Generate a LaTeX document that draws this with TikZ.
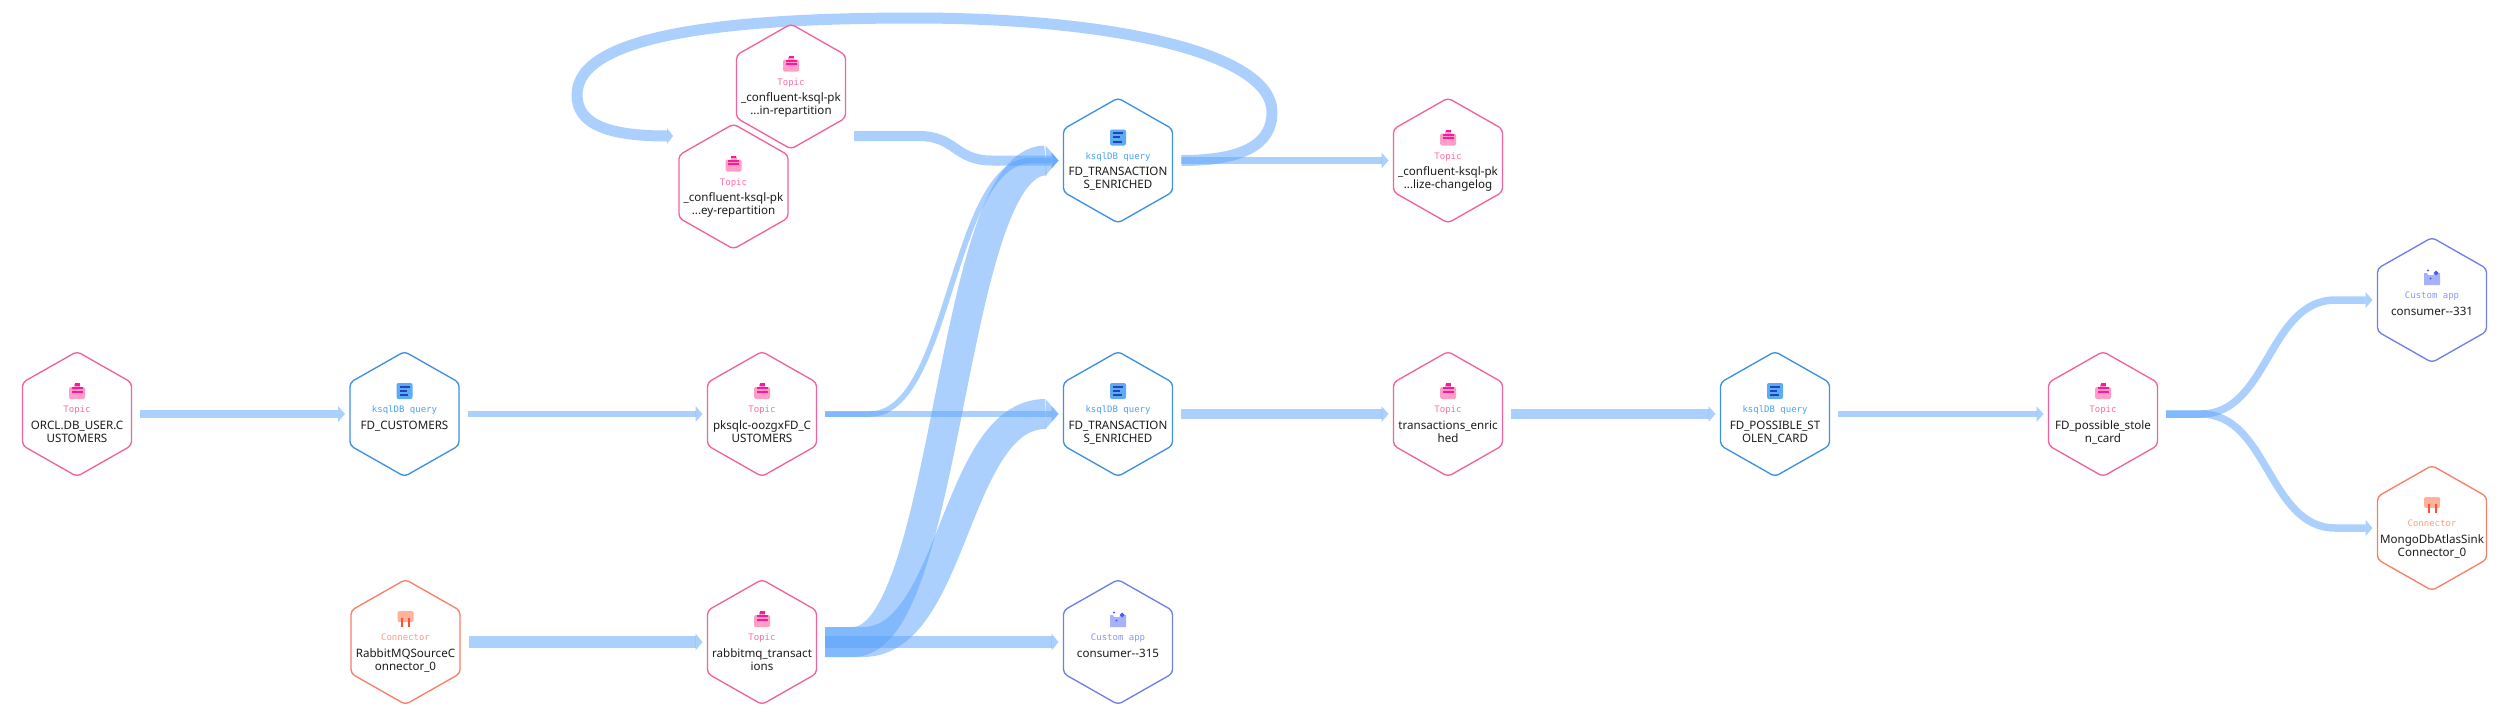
\documentclass[tikz,border=0pt]{standalone}
\usepackage{fontspec}
\setmainfont[Ligatures=NoCommon]{Noto Sans}
\newfontfamily\monof{DejaVu Sans Mono}
\usetikzlibrary{calc,backgrounds}
\definecolor{topicL}{HTML}{F2639E}\definecolor{topicT}{HTML}{FF6BA8}
\definecolor{queryL}{HTML}{3F90E2}\definecolor{queryT}{HTML}{4BA3F2}
\definecolor{appL}{HTML}{6F80E6}\definecolor{appT}{HTML}{8A98F8}
\definecolor{connL}{HTML}{F6806A}\definecolor{connT}{HTML}{FF9E80}
\definecolor{flow}{HTML}{59A1FB}
\definecolor{nametext}{HTML}{1C1C1C}
\tikzset{
  hexbox/.style={minimum width=109pt,minimum height=125pt,inner sep=0pt,outer sep=0pt,shape=rectangle},
  hexline/.style={line width=1.35pt,rounded corners=4pt,fill=white},
  typelabel/.style={anchor=base,inner sep=0pt,font=\monof\fontsize{9}{9}\selectfont},
  namelabel/.style={anchor=base,inner sep=0pt,text=nametext,font=\fontsize{11.6}{13}\selectfont},
  flowline/.style={draw=flow,draw opacity=.5,line cap=butt},
  flowhead/.style={fill=flow,fill opacity=.5,draw=none}
}
% icons, drawn relative to the node centre
\newcommand{\icontopic}{%
  \fill[topicT!65!white,rounded corners=1.5pt] (-8,-27) rectangle (8,-15);
  \fill[topicT!65!white] (-3,-30) rectangle (3,-27);
  \fill[topicT!30!magenta!70!red] (-2.5,-31) rectangle (2.5,-28.5);
  \fill[topicT!30!magenta!70!red] (-5.5,-27) rectangle (5.5,-25);
  \fill[topicT!30!magenta!70!red] (-5.5,-23.5) rectangle (5.5,-21.5);
}
\newcommand{\iconquery}{%
  \fill[queryT!90!white,rounded corners=2pt] (-8,-31) rectangle (8,-15);
  \fill[blue!40!queryL!80!black] (-5,-28.5) rectangle (5,-26.5);
  \fill[blue!40!queryL!80!black] (-5,-24.2) rectangle (2,-22.2);
  \fill[blue!40!queryL!80!black] (-5,-20) rectangle (3.5,-18);
}
\newcommand{\iconapp}{%
  \fill[appT!75!white] (-8,-27) -- (-5,-27) -- (-4,-25) -- (1,-25) -- (3,-27) -- (8,-27) -- (8,-15) -- (-8,-15) -- cycle;
  \fill[appL!70!blue] (4,-29.5) -- (6.5,-27) -- (4,-24.5) -- (1.5,-27) -- cycle;
  \fill[appL!70!blue] (-4,-29.5) circle (1.1);
  \fill[appL!70!blue] (-1.6,-21.5) circle (1.1);
}
\newcommand{\iconconn}{%
  \fill[connT!80!white,rounded corners=1.5pt] (-8,-31) rectangle (8,-20);
  \fill[connL!60!red!90!orange] (-4.5,-24) rectangle (-2.5,-15);
  \fill[connL!60!red!90!orange] (2.5,-24) rectangle (4.5,-15);
}
% \hexnode{name}{x}{y}{kind}{type}{line 1}{line 2}
\newcommand{\hexnode}[7]{%
  \node[hexbox] (#1) at (#2,#3) {};
  \begin{scope}[shift={(#1.center)}]
    \draw[hexline,draw=#4L] (0,-62.5) -- (54.5,-31.5) -- (54.5,31.5) -- (0,62.5) -- (-54.5,31.5) -- (-54.5,-31.5) -- cycle;
    \csname icon#4\endcsname
    \node[typelabel,text=#4T] (#1-type) at (0,-1.5) {#5};
    \node[namelabel] (#1-a) at (0,15) {#6};
    \if\relax\detokenize{#7}\relax\else\node[namelabel] (#1-b) at (0,28) {#7};\fi
  \end{scope}
}
% \flowS{from}{to}{width}{head half}{head len}
\newcommand{\flowS}[5]{%
  \coordinate (s) at ($(#1.east)+(8.5,0)$);
  \coordinate (t) at ($(#2.west)+(-5-#5,0)$);
  \coordinate (tip) at ($(#2.west)+(-5,0)$);
  \draw[flowline,line width=#3pt] (s) -- (t);
  \fill[flowhead] ($(t)+(0,-#4)$) -- (tip) -- ($(t)+(0,#4)$) -- cycle;
}
% \flowC[start y offset]{from}{to}{width}{head half}{head len}{flat run at start}{flat run at end}
\newcommand{\flowC}[8][0]{%
  \coordinate (s) at ($(#2.east)+(8.5,#1)$);
  \coordinate (t) at ($(#3.west)+(-5-#6,0)$);
  \coordinate (tip) at ($(#3.west)+(-5,0)$);
  \coordinate (ca) at ($(s)+(#7,0)$);
  \coordinate (cb) at ($(t)+(-#8,0)$);
  \coordinate (cm) at ($(ca)!.5!(cb)$);
  \draw[flowline,line width=#4pt] (s) -- (ca) .. controls (ca -| cm) and (cb -| cm) .. (cb) -- (t);
  \fill[flowhead] ($(t)+(0,-#5)$) -- (tip) -- ($(t)+(0,#5)$) -- cycle;
}
\begin{document}
\begin{tikzpicture}[x=1pt,y=-1pt]
\useasboundingbox (0,0) rectangle (2505,718);
\hexnode{orcl}{77}{414}{topic}{Topic}{ORCL.DB\_USER.C}{USTOMERS}
\hexnode{fdcust}{404.5}{414}{query}{ksqlDB query}{FD\_CUSTOMERS}{}
\hexnode{pksql}{762}{414}{topic}{Topic}{pksqlc-oozgxFD\_C}{USTOMERS}
\hexnode{tr2}{1118}{414}{query}{ksqlDB query}{FD\_TRANSACTION}{S\_ENRICHED}
\hexnode{tenr}{1448}{414}{topic}{Topic}{transactions\_enric}{hed}
\hexnode{poss}{1775}{414}{query}{ksqlDB query}{FD\_POSSIBLE\_ST}{OLEN\_CARD}
\hexnode{stolen}{2103}{414}{topic}{Topic}{FD\_possible\_stole}{n\_card}
\hexnode{c331}{2432}{300}{app}{Custom app}{consumer{-}{-}331}{}
\hexnode{mongo}{2432}{528}{conn}{Connector}{MongoDbAtlasSink}{Connector\_0}
\hexnode{rabbit}{405.5}{642}{conn}{Connector}{RabbitMQSourceC}{onnector\_0}
\hexnode{rtrans}{762}{642}{topic}{Topic}{rabbitmq\_transact}{ions}
\hexnode{c315}{1118}{642}{app}{Custom app}{consumer{-}{-}315}{}
\hexnode{inrep}{791}{86.5}{topic}{Topic}{\_confluent-ksql-pk}{...in-repartition}
\hexnode{eyrep}{733.5}{186.5}{topic}{Topic}{\_confluent-ksql-pk}{...ey-repartition}
\hexnode{tr1}{1118}{160.5}{query}{ksqlDB query}{FD\_TRANSACTION}{S\_ENRICHED}
\hexnode{chlog}{1448}{160.5}{topic}{Topic}{\_confluent-ksql-pk}{...lize-changelog}
\begin{scope}[on background layer]
\flowS{orcl}{fdcust}{8}{8}{7}
\flowS{fdcust}{pksql}{6}{8}{7}
\flowS{pksql}{tr2}{5.5}{8}{7}
\flowC{pksql}{tr1}{5.5}{8}{7}{45}{20}
\flowC{rtrans}{tr1}{30}{15}{13}{28}{0}
\flowC{rtrans}{tr2}{30}{15}{13}{38}{0}
\flowS{rtrans}{c315}{12}{8.5}{7}
\flowC[49.5]{inrep}{tr1}{10}{8}{7}{65}{60}
\flowS{tr1}{chlog}{6.5}{8}{7}
\flowS{tr2}{tenr}{10}{8}{7}
\flowS{tenr}{poss}{10}{8}{7}
\flowS{poss}{stolen}{6}{8}{7}
\flowC{stolen}{c331}{7.5}{8}{7}{35}{30}
\flowC{stolen}{mongo}{7.5}{8}{7}{35}{30}
\flowS{rabbit}{rtrans}{12}{8.5}{7}
% feedback loop
\coordinate (ls) at ($(tr1.east)+(9,0)$);
\coordinate (lt) at ($(eyrep.west)+(-12,-50.5)$);
\coordinate (ltip) at ($(eyrep.west)+(-6,-50.5)$);
\draw[flowline,line width=11pt] (ls) .. controls +(50,0) and (1272,150) .. (1272,112)
   .. controls (1272,55) and (1120,18) .. (914,18)
   .. controls (720,18) and (577,36) .. (577,95)
   .. controls (577,125) and (610,136) .. (lt);
\fill[flowhead] ($(lt)+(0,-8)$) -- (ltip) -- ($(lt)+(0,8)$) -- cycle;
\end{scope}
\end{tikzpicture}
\end{document}
